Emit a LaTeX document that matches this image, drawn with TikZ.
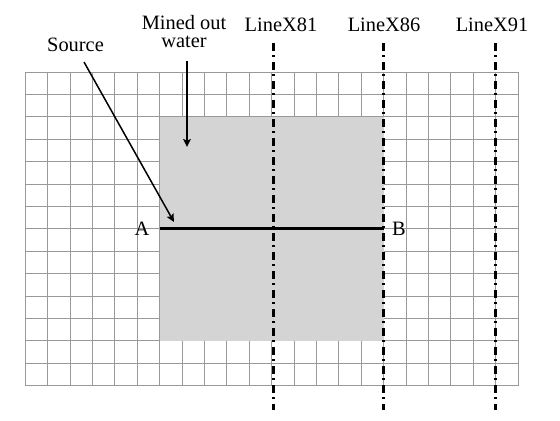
\documentclass[tikz,border=0pt]{standalone}
\usepackage{fontspec}
\setmainfont{Liberation Serif}
\usetikzlibrary{arrows.meta,positioning}

\begin{document}
\begin{tikzpicture}[x=0.5pt,y=-0.5pt,
  lbl/.style={font=\fontsize{10.2}{9.2}\selectfont,inner sep=0pt},
  gridline/.style={draw=black!40,line width=0.5pt},
  survey/.style={line width=1.3pt,dash pattern=on 4pt off 2.2pt on 1pt off 2.3pt},
  pointer/.style={-{Stealth[length=4pt,width=3.8pt,inset=0.8pt]},line width=0.75pt}]
  \useasboundingbox (0,0) rectangle (560,420);
  % grid, 22 x 14 cells
  \foreach \i in {0,...,22}
    \draw[gridline] (25.3+\i*22.4,72) -- (25.3+\i*22.4,385.6);
  \foreach \j in {0,...,14}
    \draw[gridline] (25.3,72+\j*22.4) -- (518.1,72+\j*22.4);
  % mined out area
  \fill[black!17] (159.7,116.8) rectangle (383.7,340.8);
  % survey lines
  \node[lbl] (lx81) at (281,25) {LineX81};
  \node[lbl] (lx86) at (384,25) {LineX86};
  \node[lbl] (lx91) at (492,25) {LineX91};
  \foreach \x/\n in {273.7/81,383.7/86,495.7/91}{
    \coordinate (top\n) at (\x,43);
    \coordinate (bot\n) at (\x,410);
    \draw[survey] (top\n) -- (bot\n);
  }
  % profile A--B
  \coordinate (ptA) at (159.7,228);
  \coordinate (ptB) at (383.7,228);
  \node[lbl] (A) at (142,228.5) {A};
  \node[lbl] (B) at (399,228.5) {B};
  \draw[line width=1.5pt] (ptA) -- (ptB);
  % pointers
  \node[lbl] (src) at (75.5,44.5) {Source};
  \node[lbl,align=center,anchor=north] (mined) at (184,15) {Mined out\\water};
  \coordinate (srcTail) at (84,62);
  \coordinate (srcTip) at (174,222);
  \coordinate (minedTail) at (187,61);
  \coordinate (minedTip) at (187,147);
  \draw[pointer] (srcTail) -- (srcTip);
  \draw[pointer] (minedTail) -- (minedTip);
\end{tikzpicture}
\end{document}
